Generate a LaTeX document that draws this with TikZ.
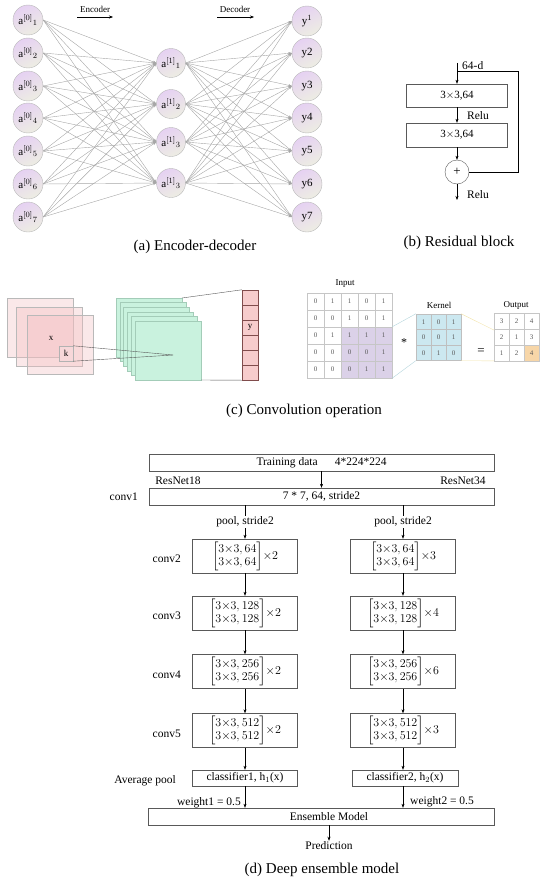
\documentclass[tikz,border=0pt]{standalone}
\usepackage{fontspec}
\setmainfont{Liberation Serif}
\usepackage{amsmath}
\usetikzlibrary{arrows.meta, positioning, calc}
\definecolor{unittop}{rgb}{0.90,0.82,0.95}
\definecolor{unitbot}{rgb}{0.93,0.93,0.89}
\definecolor{pinkfill}{rgb}{0.95,0.74,0.75}
\definecolor{mintfill}{rgb}{0.79,0.95,0.87}
\definecolor{mintedge}{rgb}{0.64,0.80,0.72}
\definecolor{ycellfill}{rgb}{0.97,0.80,0.80}
\definecolor{ycelledge}{rgb}{0.50,0.30,0.30}
\definecolor{inshade}{rgb}{0.86,0.82,0.91}
\definecolor{kernfill}{rgb}{0.80,0.91,0.94}
\definecolor{outhot}{rgb}{0.97,0.84,0.66}
\definecolor{linkblue}{rgb}{0.70,0.83,0.86}
\definecolor{linkyellow}{rgb}{0.95,0.89,0.66}

\tikzset{
  >={Stealth[length=4pt,width=3pt]},
  unit/.style={circle, draw=gray!55, top color=unittop, bottom color=unitbot,
    shading angle=25, minimum size=30pt, inner sep=0pt, font=\fontsize{11}{12}\selectfont},
  link/.style={gray!70, line width=0.4pt, -{Stealth[length=3.5pt,width=2.5pt]}},
  lbl/.style={inner sep=1pt, font=\fontsize{11.5}{13}\selectfont},
  small/.style={inner sep=1pt, font=\fontsize{9}{10}\selectfont},
  capt/.style={inner sep=0pt, font=\fontsize{15}{18}\selectfont},
  resbox/.style={draw=gray!70!black, minimum width=101pt, inner sep=1pt, font=\fontsize{11}{13}\selectfont},
  blk/.style={draw=gray!70!black, inner sep=1pt, font=\fontsize{11.5}{13}\selectfont},
  stage/.style={blk, minimum width=105pt, minimum height=34pt},
  pool/.style={lbl, fill=white},
  pinkpage/.style={fill=pinkfill, fill opacity=0.35, draw=gray!55},
  mintpage/.style={fill=mintfill, draw=mintedge},
  incell/.style={draw=gray!45, minimum size=17pt, inner sep=0pt, text=gray!70!black, font=\fontsize{7}{8}\selectfont},
  kcell/.style={draw=gray!50, fill=kernfill, minimum width=15pt, minimum height=15.5pt, inner sep=0pt, text=gray!70!black, font=\fontsize{7}{8}\selectfont},
  ocell/.style={draw=gray!45, minimum width=15pt, minimum height=16pt, inner sep=0pt, text=gray!70!black, font=\fontsize{7}{8}\selectfont},
  ycell/.style={draw=ycelledge, fill=ycellfill, minimum width=16pt, minimum height=15pt, inner sep=0pt, font=\fontsize{9}{10}\selectfont}
}
\newcommand{\blkmat}[2]{$\begin{bmatrix}3{\times}3,#1\\3{\times}3,#1\end{bmatrix}\!{\times}#2$}

\begin{document}
\begin{tikzpicture}[x=1pt,y=-1pt]
  \useasboundingbox (0,0) rectangle (550,883);

  % (a) encoder-decoder
  \foreach \i/\y in {1/20,2/53,3/86,4/118,5/151,6/184,7/217}
    \node[unit] (a0\i) at (28,\y) {a$^{[0]}{}_{\i}$};
  \foreach \j/\y/\s in {1/63/1,2/104/2,3/142/3,4/183/3}
    \node[unit, minimum size=29pt] (a1\j) at (171,\y) {a$^{[1]}{}_{\s}$};
  \foreach \i/\y/\t in {1/21/y$^1$,2/53/y2,3/86/y3,4/118/y4,5/151/y5,6/184/y6,7/217/y7}
    \node[unit] (y\i) at (307,\y) {\t};

  \foreach \i in {1,...,7}
    \foreach \j in {1,...,4}
      \draw[link] (a0\i.east) -- (a1\j.west);
  \foreach \j in {1,...,4}
    \foreach \i in {1,...,7}
      \draw[link] (a1\j.east) -- (y\i.west);

  \node[small] (enc) at (95,9) {Encoder};
  \coordinate (encL) at (77,17);
  \coordinate (encR) at (113,17);
  \draw[->] (encL) -- (encR);
  \node[small] (dec) at (235,9) {Decoder};
  \coordinate (decL) at (217,17);
  \coordinate (decR) at (254,17);
  \draw[->] (decL) -- (decR);

  \node[capt] (capa) at (195,247) {(a) Encoder-decoder};

  % (b) residual block
  \coordinate (resin) at (457,63);
  \node[resbox, minimum height=23pt] (rb1) at (457,95.5) {3$\times$3,64};
  \node[resbox, minimum height=24pt] (rb2) at (457,135) {3$\times$3,64};
  \node[circle, draw=gray!70!black, minimum size=24pt, inner sep=0pt, font=\fontsize{13}{13}\selectfont] (sum) at (457,172) {+};
  \coordinate (resout) at (457,200);
  \draw[->] (resin) -- (rb1);
  \draw[->] (rb1) -- (rb2);
  \draw[->] (rb2) -- (sum);
  \draw[->] (sum) -- (resout);
  \coordinate (skipA) at (457,71);
  \coordinate (skipB) at (518,172);
  \draw (skipA) -| (skipB) -- (sum);
  \node[lbl, anchor=west] (dim) at (461,66) {64-d};
  \node[lbl, anchor=west] (relu1) at (466,116) {Relu};
  \node[lbl, anchor=west] (relu2) at (466,195) {Relu};

  \node[capt] (capb) at (459,243) {(b) Residual block};

  % (c) convolution, feature maps
  \foreach \x/\y in {7/298,16/307,27/315}
    \filldraw[pinkpage] (\x,\y) rectangle ++(66,59);
  \node[small] (xin) at (51,338) {x};
  \node[draw=gray!60, fill=pinkfill!60, minimum width=14pt, minimum height=15pt, inner sep=0pt, font=\fontsize{9}{10}\selectfont] (k) at (66,353.5) {k};
  \foreach \n in {0,...,5}
    \filldraw[mintpage] ({116+3.8*\n},{298+4.6*\n}) rectangle ++(66,59);
  \coordinate (focus) at (173,355);
  \draw[gray!70!black] (k.north east) -- (focus);
  \draw[gray!70!black] (k.south east) -- (focus);
  \foreach \n/\t in {1/,2/,3/y,4/,5/,6/}
    \node[ycell] (yc\n) at (250,{290+15*(\n-0.5)}) {\t};
  \coordinate (mintTR) at (182,298);
  \coordinate (mintBR) at (201,380);
  \draw[gray!70!black] (mintTR) -- (yc1.north west);
  \draw[gray!70!black] (mintBR) -- (yc6.south west);

  % (c) convolution, numbers
  \node[small] (inlab) at (345,284) {Input};
  \fill[inshade] (341,327) rectangle (392,378);
  \foreach \row [count=\r] in {{0,1,1,0,1},{0,0,1,0,1},{0,1,1,1,1},{0,0,0,0,1},{0,0,0,1,1}}
    \foreach \v [count=\c] in \row
      \node[incell] (in-\r-\c) at ({307+17*(\c-0.5)},{293+17*(\r-0.5)}) {\v};
  \node[font=\fontsize{12}{12}\selectfont] (star) at (404,343) {*};

  \node[small] (kerlab) at (439,305) {Kernel};
  \foreach \row [count=\r] in {{1,0,1},{0,0,1},{0,1,0}}
    \foreach \v [count=\c] in \row
      \node[kcell] (kr-\r-\c) at ({416+15*(\c-0.5)},{314+15.5*(\r-0.5)}) {\v};
  \draw[linkblue] (in-3-5.north east) -- (kr-1-1.north west);
  \draw[linkblue] (in-5-5.south east) -- (kr-3-1.south west);
  \node[font=\fontsize{13}{13}\selectfont] (eq) at (481,352) {=};

  \node[small] (outlab) at (516,305) {Output};
  \coordinate (hotTL) at (524,345);
  \coordinate (hotBL) at (524,361);
  \draw[linkyellow] (kr-1-3.north east) -- (hotTL);
  \draw[linkyellow] (kr-3-3.south east) -- (hotBL);
  \foreach \row [count=\r] in {{3,2,4},{2,1,3},{1,2,4}}
    \foreach \v [count=\c] in \row {
      \pgfmathparse{(\r==3 && \c==3) ? "outhot" : "white"}
      \let\ocol\pgfmathresult
      \node[ocell, fill=\ocol] (out-\r-\c) at ({494+15*(\c-0.5)},{313+16*(\r-0.5)}) {\v};
    }

  \node[capt] (capc) at (304,411) {(c) Convolution operation};

  % (d) deep ensemble model
  \node[blk, minimum width=345pt, minimum height=17pt] (train) at (321.5,462.5) {Training data\hspace{17pt}4*224*224\hspace{12pt}};
  \node[blk, minimum width=345pt, minimum height=17pt] (conv1) at (321.5,496.5) {7 * 7, 64, stride2};
  \draw[->] (train) -- (conv1);
  \node[lbl] (r18) at (178,481) {ResNet18};
  \node[lbl] (r34) at (463,481) {ResNet34};
  \node[lbl, anchor=east] (lab1) at (139,497) {conv1};

  \foreach \n/\y/\ch/\lr/\rr in {2/556/64/2/3, 3/613/128/2/4, 4/671.5/256/2/6, 5/730.5/512/2/3} {
    \node[stage] (L\n) at (245,\y) {\blkmat{\ch}{\lr}};
    \node[stage] (R\n) at (403,\y) {\blkmat{\ch}{\rr}};
    \node[lbl, anchor=east] (lab\n) at (182,\y+3) {conv\n};
  }
  \draw[->] (conv1.south -| L2) -- node[pool] {pool, stride2} (L2);
  \draw[->] (conv1.south -| R2) -- node[pool] {pool, stride2} (R2);
  \foreach \a/\b in {2/3,3/4,4/5} {
    \draw[->] (L\a) -- (L\b);
    \draw[->] (R\a) -- (R\b);
  }

  \node[blk, minimum width=105pt, minimum height=16pt] (cls1) at (245,778) {classifier1, h$_1$(x)};
  \node[blk, minimum width=106pt, minimum height=16pt] (cls2) at (405,778) {classifier2, h$_2$(x)};
  \node[lbl, anchor=east] (avg) at (177,781) {Average pool};
  \draw[->] (L5) -- (cls1);
  \draw[->] (R5.south) -- (R5.south |- cls2.north);

  \node[blk, minimum width=346pt, minimum height=17pt] (ens) at (321,816.5) {\hspace{16pt}Ensemble Model};
  \draw[->] (cls1) -- (cls1 |- ens.north);
  \draw[->] (cls2.south -| R5) -- (R5 |- ens.north);
  \node[lbl, anchor=east] (w1) at (242,803) {weight1 = 0.5};
  \node[lbl, anchor=west] (w2) at (409,802) {weight2 = 0.5};
  \node[lbl] (pred) at (329,846) {Prediction};
  \draw[->] (ens.south -| pred) -- (pred);

  \node[capt] (capd) at (322,870) {(d) Deep ensemble model};
\end{tikzpicture}
\end{document}
